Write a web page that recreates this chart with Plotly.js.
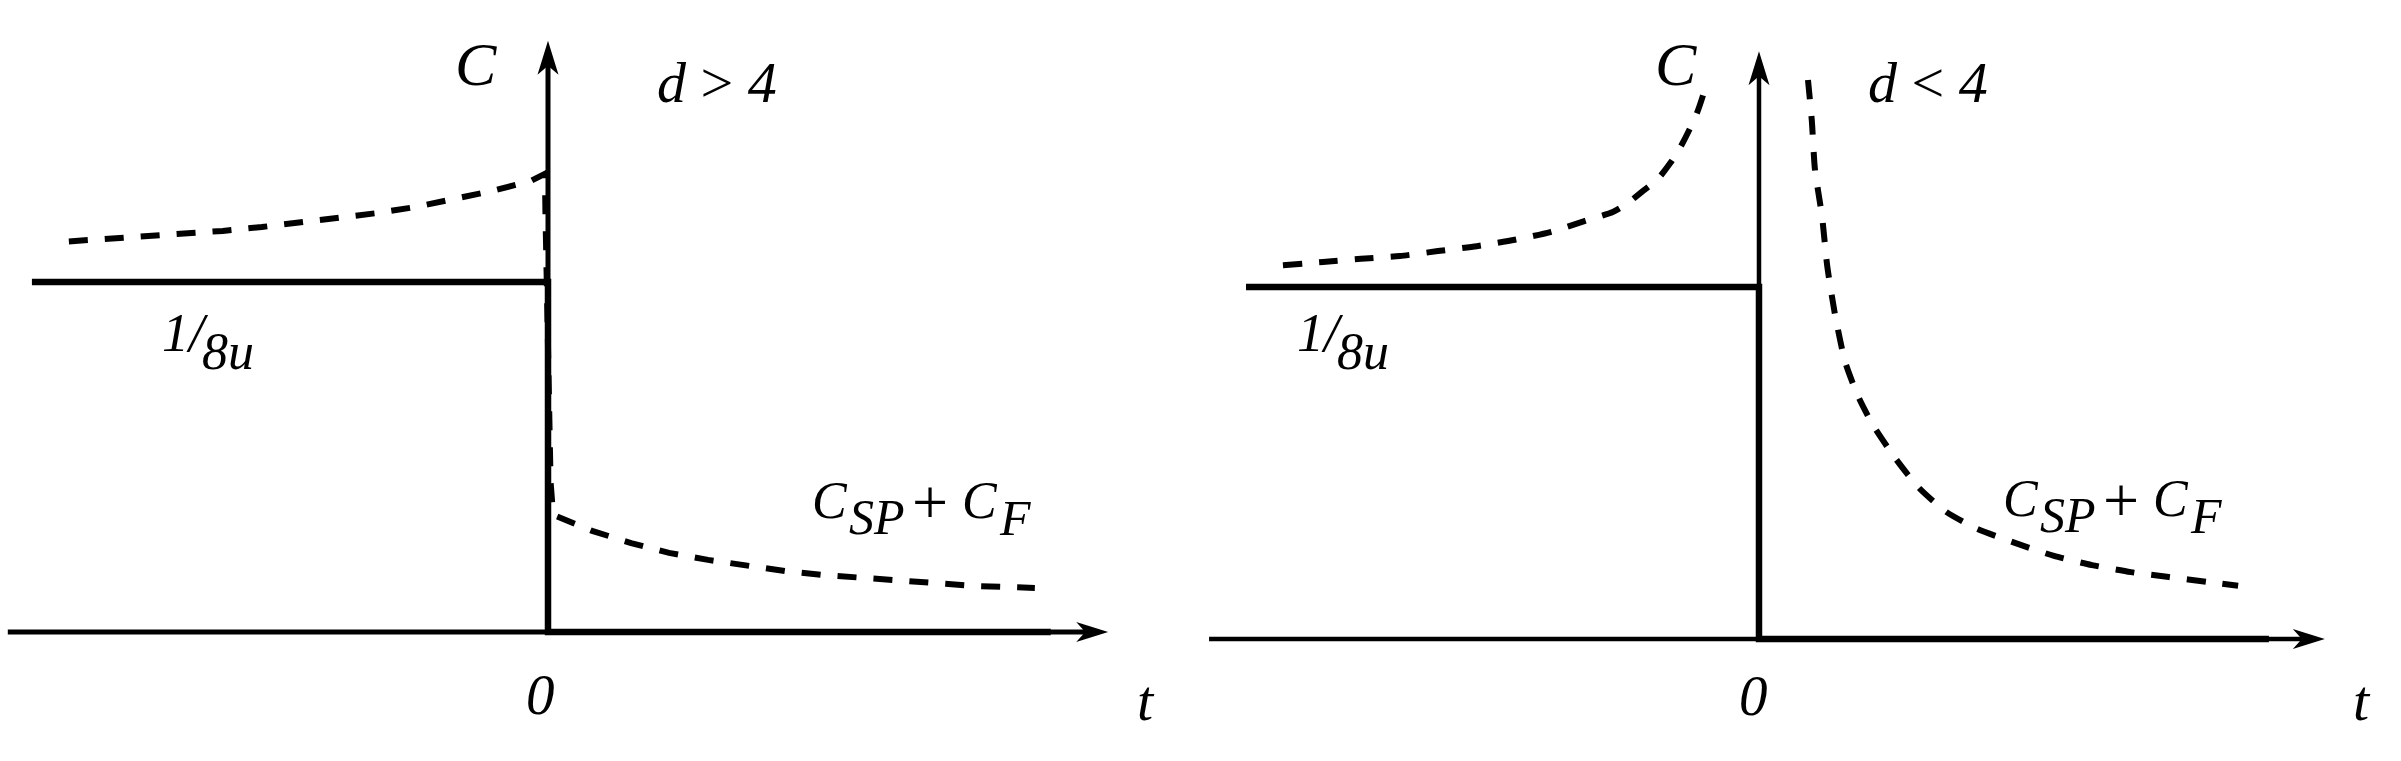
<!DOCTYPE html>
<html>
<head>
<meta charset="utf-8">
<script src="https://cdn.plot.ly/plotly-3.0.1.min.js"></script>
<style>html,body{margin:0;padding:0;background:#fff;}#chart{width:2401px;height:761px;}</style>
</head>
<body>
<div id="chart"></div>
<script>
// ---- Data (t in arbitrary time units, C in units of 1/8u) ----
// Panel (a): d > 4
const leftStepT = [-10.06, 0, 0, 9.8];
const leftStepC = [1, 1, 0, 0];
const leftDashT = [-9.34, -8.58, -7.84, -7.08, -6.34, -5.58, -4.83, -4.09, -3.33, -2.59, -1.83, -1.09, -0.33, -0.06,
                   -0.05, -0.02, 0.02, 0.05, 0.1,
                   0.86, 1.62, 2.36, 3.12, 3.86, 4.62, 5.36, 6.12, 6.86, 7.6, 8.36, 9.49];
const leftDashC = [1.116, 1.123, 1.129, 1.137, 1.146, 1.157, 1.169, 1.183, 1.197, 1.214, 1.237, 1.26, 1.289, 1.309,
                   1.2, 0.95, 0.6, 0.43, 0.335,
                   0.289, 0.254, 0.226, 0.206, 0.189, 0.174, 0.163, 0.154, 0.146, 0.137, 0.131, 0.126];
// Panel (b): d < 4
const rightStepT = [-10.0, 0, 0, 9.94];
const rightStepC = [1, 1, 0, 0];
const rightDashBeforeT = [-9.28, -8.5, -7.76, -7.0, -6.26, -5.5, -4.76, -4.07, -3.39, -2.85, -2.55, -2.26, -1.97, -1.73, -1.54, -1.36, -1.21, -1.09, -1.01];
const rightDashBeforeC = [1.062, 1.071, 1.080, 1.088, 1.102, 1.116, 1.134, 1.156, 1.188, 1.213, 1.239, 1.273, 1.307, 1.352, 1.395, 1.446, 1.494, 1.545, 1.585];
const rightDashAfterT = [0.955, 1.03, 1.09, 1.23, 1.33, 1.48, 1.68, 1.93, 2.22, 2.67, 3.12, 3.65, 4.25, 4.99, 5.75, 6.49, 7.25, 7.99, 8.75, 9.34];
const rightDashAfterC = [1.588, 1.472, 1.335, 1.199, 1.06, 0.923, 0.787, 0.69, 0.608, 0.511, 0.429, 0.361, 0.313, 0.273, 0.236, 0.21, 0.19, 0.176, 0.162, 0.151];

// Labels
const panelLabels = ['<i>d</i> > <i>4</i>', '<i>d</i> < <i>4</i>'];
const axisYLabel = '<i>C</i>';
const axisXLabel = '<i>t</i>';
const originLabel = '<i>0</i>';
const levelLabelA = '<i>1/</i>';
const levelLabelB = '<i>8u</i>';

// ---- Styling ----
const FONT = '"Liberation Serif", "Times New Roman", serif';
const DASH = '19px,17px';
const W = 2401, H = 761;
const px = v => v / W;
const py = v => 1 - v / H;

const traces = [
  {x: leftStepT, y: leftStepC, xaxis: 'x', yaxis: 'y', mode: 'lines', line: {color: '#000', width: 6.5}, hoverinfo: 'skip'},
  {x: leftDashT, y: leftDashC, xaxis: 'x', yaxis: 'y', mode: 'lines', line: {color: '#000', width: 6, dash: DASH}, hoverinfo: 'skip'},
  {x: rightStepT, y: rightStepC, xaxis: 'x2', yaxis: 'y2', mode: 'lines', line: {color: '#000', width: 6.5}, hoverinfo: 'skip'},
  {x: rightDashBeforeT, y: rightDashBeforeC, xaxis: 'x2', yaxis: 'y2', mode: 'lines', line: {color: '#000', width: 6, dash: DASH, shape: 'spline', smoothing: 0.6}, hoverinfo: 'skip'},
  {x: rightDashAfterT, y: rightDashAfterC, xaxis: 'x2', yaxis: 'y2', mode: 'lines', line: {color: '#000', width: 6, dash: DASH, shape: 'spline', smoothing: 0.6}, hoverinfo: 'skip'}
];

function axisShapes(xr, yr, xTail, xTip, yTip, yUnitPx, xUnitPx, lw) {
  const back = 22;
  return [
    {type: 'line', xref: xr, yref: yr, x0: xTail, x1: xTip - back / xUnitPx, y0: 0, y1: 0, layer: 'below', line: {color: '#000', width: lw}},
    {type: 'line', xref: xr, yref: yr, x0: 0, x1: 0, y0: 0, y1: yTip - back / yUnitPx, layer: 'below', line: {color: '#000', width: lw}},
    {type: 'path', xref: xr, yref: yr, xsizemode: 'pixel', ysizemode: 'pixel', xanchor: xTip, yanchor: 0,
     path: 'M0,0 L-32,10 L-23,0 L-32,-10 Z', fillcolor: '#000', line: {width: 0}},
    {type: 'path', xref: xr, yref: yr, xsizemode: 'pixel', ysizemode: 'pixel', xanchor: 0, yanchor: yTip,
     path: 'M0,0 L-10.5,-34 L0,-25 L10.5,-34 Z', fillcolor: '#000', line: {width: 0}}
  ];
}

function txt(text, x, y, size, xanchor) {
  return {text: text, xref: 'paper', yref: 'paper', x: px(x), y: py(y), xanchor: xanchor || 'center', yanchor: 'middle',
          showarrow: false, font: {family: FONT, size: size, color: '#000'}};
}

function sumLabel(x0, yc) {
  return [
    txt('<i>C</i>', x0, yc, 52, 'left'),
    txt('<i>SP</i>', x0 + 37, yc + 17, 50, 'left'),
    txt('+', x0 + 100, yc + 2, 64, 'left'),
    txt('<i>C</i>', x0 + 150, yc, 52, 'left'),
    txt('<i>F</i>', x0 + 187, yc + 18, 50, 'left')
  ];
}

const annotations = [
  // left panel
  txt(axisYLabel, 476, 64, 62),
  txt(panelLabels[0], 717, 82, 58),
  txt(levelLabelA, 160, 333, 54, 'left'),
  txt(levelLabelB, 200, 351, 52, 'left'),
  ...sumLabel(810, 500),
  txt(originLabel, 540, 694, 57),
  txt(axisXLabel, 1146, 700, 58),
  // right panel
  txt(axisYLabel, 1676, 64, 62),
  txt(panelLabels[1], 1928, 82, 58),
  txt(levelLabelA, 1295, 333, 54, 'left'),
  txt(levelLabelB, 1335, 351, 52, 'left'),
  ...sumLabel(2001, 498),
  txt(originLabel, 1753, 695, 57),
  txt(axisXLabel, 2362, 700, 58)
];

const layout = {
  width: W, height: H,
  margin: {l: 0, r: 0, t: 0, b: 0, pad: 0},
  paper_bgcolor: '#fff', plot_bgcolor: '#fff',
  showlegend: false,
  xaxis: {domain: [0, 0.5], range: [-10.682, 12.719], visible: false, fixedrange: true},
  yaxis: {domain: [0, 1], range: [-0.3686, 1.8057], visible: false, fixedrange: true, anchor: 'x'},
  xaxis2: {domain: [0.5, 1], range: [-10.887, 12.515], visible: false, fixedrange: true, anchor: 'y2'},
  yaxis2: {domain: [0, 1], range: [-0.3466, 1.8153], visible: false, fixedrange: true, anchor: 'x2'},
  shapes: [
    ...axisShapes('x', 'y', -10.53, 10.92, 1.689, 350, 51.3, 5),
    ...axisShapes('x2', 'y2', -10.72, 11.03, 1.67, 352, 51.3, 4.5)
  ],
  annotations: annotations
};

Plotly.newPlot('chart', traces, layout, {staticPlot: true, displayModeBar: false});
</script>
</body>
</html>
